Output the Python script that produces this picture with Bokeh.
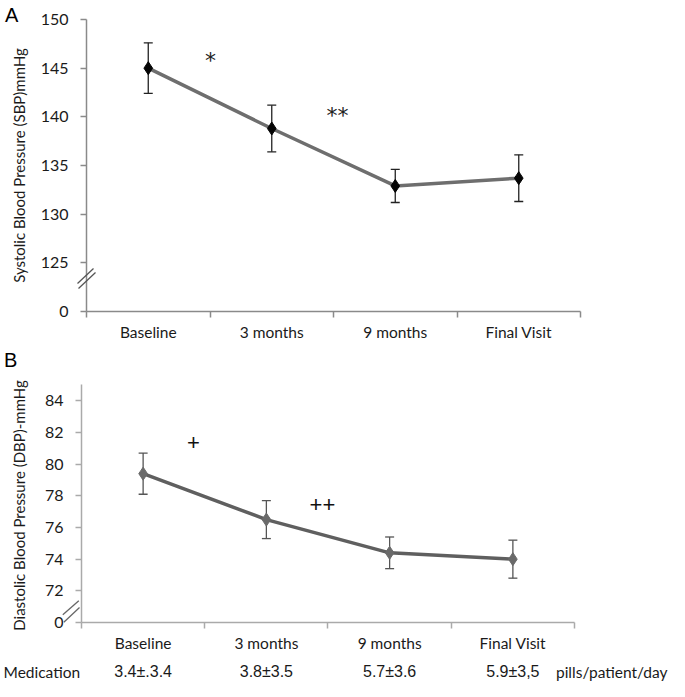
from bokeh.plotting import figure
from bokeh.models import (Range1d, FixedTicker, Label, Whisker, ColumnDataSource,
                          TeeHead, Arrow, LinearAxis)
from bokeh.layouts import column
from bokeh.embed import file_html
from bokeh.resources import INLINE
from bokeh.core.properties import value

# ---------------- data ----------------
categories = ["Baseline", "3 months", "9 months", "Final Visit"]
sbp_mean = [145.0, 138.8, 132.9, 133.7]
sbp_err = [2.6, 2.4, 1.7, 2.4]
dbp_mean = [79.4, 76.5, 74.4, 74.0]
dbp_err = [1.3, 1.2, 1.0, 1.2]
medication = ["3.4\u00b1.3.4", "3.8\u00b13.5", "5.7\u00b13.6", "5.9\u00b13,5"]
sbp_ticks = [120, 125, 130, 135, 140, 145, 150]
sbp_tick_labels = ["0", "125", "130", "135", "140", "145", "150"]
dbp_ticks = [70, 72, 74, 76, 78, 80, 82, 84]
dbp_tick_labels = ["0", "72", "74", "76", "78", "80", "82", "84"]
sbp_sig = ["*", "**"]
dbp_sig = ["+", "++"]

FONT = "Lato"
TXT = "#1a1a1a"
xs = [i + 0.5 for i in range(len(categories))]
bounds_x = (0, len(categories))


def make_panel(width, height, xr, yr, ybounds, ticks, tick_labels, mean, err,
               line_color, marker_color, err_color, axis_color, ylabel, title_standoff):
    p = figure(width=width, height=height, output_backend="svg",
               toolbar_location=None, x_range=Range1d(*xr), y_range=Range1d(*yr),
               x_axis_location=None, y_axis_location=None,
               min_border_left=0, min_border_right=0, min_border_top=0,
               min_border_bottom=0)
    p.outline_line_color = None
    p.background_fill_color = "white"
    p.border_fill_color = "white"
    for g in p.grid:
        g.visible = False

    xa = LinearAxis(fixed_location=ybounds[0], bounds=bounds_x,
                    ticker=FixedTicker(ticks=xs, minor_ticks=list(range(len(categories) + 1))),
                    major_label_overrides={x: c for x, c in zip(xs, categories)})
    xa.major_tick_out = 0
    xa.major_tick_in = 0
    xa.minor_tick_out = 6
    xa.minor_tick_in = 0
    xa.minor_tick_line_color = axis_color
    xa.minor_tick_line_width = 1.5
    xa.axis_line_color = axis_color
    xa.axis_line_width = 1.5
    xa.major_label_standoff = 6
    xa.major_label_text_font = FONT
    xa.major_label_text_font_size = "15.5px"
    xa.major_label_text_color = TXT
    p.add_layout(xa, "below")

    ya = LinearAxis(fixed_location=0, bounds=ybounds,
                    ticker=FixedTicker(ticks=ticks, minor_ticks=[]),
                    major_label_overrides={t: l for t, l in zip(ticks, tick_labels)})
    ya.major_tick_out = 6
    ya.major_tick_in = 0
    ya.minor_tick_out = 0
    ya.minor_tick_in = 0
    ya.major_tick_line_color = axis_color
    ya.major_tick_line_width = 1.5
    ya.axis_line_color = axis_color
    ya.axis_line_width = 1.5
    ya.major_label_standoff = 12
    ya.major_label_text_font = FONT
    ya.major_label_text_font_size = "16px"
    ya.major_label_text_color = TXT
    ya.axis_label = ylabel
    ya.axis_label_text_font = FONT
    ya.axis_label_text_font_style = "normal"
    ya.axis_label_text_font_size = "15px"
    ya.axis_label_text_color = TXT
    ya.axis_label_standoff = title_standoff
    p.add_layout(ya, "left")

    src = ColumnDataSource(dict(x=xs, y=mean,
                                upper=[m + e for m, e in zip(mean, err)],
                                lower=[m - e for m, e in zip(mean, err)]))
    p.line("x", "y", source=src, line_color=line_color, line_width=3.5)
    head = dict(size=9, line_color=err_color, line_width=1.3)
    p.add_layout(Whisker(base="x", upper="upper", lower="lower", source=src,
                         line_color=err_color, line_width=1.3,
                         upper_head=TeeHead(**head), lower_head=TeeHead(**head)))
    p.scatter("x", "y", source=src, marker="diamond", size=13,
              fill_color=marker_color, line_color=marker_color)
    return p


def seg(p, pts, color):
    for (x0, y0, x1, y1) in pts:
        p.add_layout(Arrow(start=None, end=None, x_start=x0, y_start=y0,
                           x_end=x1, y_end=y1, line_color=color, line_width=1.3))


def note(p, x, y, text, font, size, align="center", color=TXT):
    p.add_layout(Label(x=x, y=y, text=text, text_font=font, text_font_size=size,
                       text_align=align, text_baseline="middle", text_color=color))


# ---------------- panel A ----------------
# frame = whole canvas: x 0 at 86px (123.5 px/unit), y 150 at 19px (9.733 px/unit)
pA = make_panel(669, 342, (-0.6964, 4.7206), (116.814, 151.952), (120, 150),
                sbp_ticks, sbp_tick_labels, sbp_mean, sbp_err,
                "#6e6e6e", "#050505", "#222222", "#8a8a8a",
                "Systolic Blood Pressure (SBP)mmHg", 10)
note(pA, -0.66, 150.5, "A", "Liberation Sans", "20px", "left", "#000000")
for t, (x, y) in zip(sbp_sig, [(1.004, 145.81), (2.032, 140.16)]):
    note(pA, x, y, t, "DejaVu Sans", "22px", "center", "#222222")
seg(pA, [(-0.0729, 122.876, 0.0567, 124.417), (-0.0648, 122.362, 0.0729, 124.006)],
    "#555555")

# ---------------- panel B ----------------
# x 0 at 81px (123.25 px/unit), y 85 at 384.5px (15.833 px/unit)
pB = make_panel(669, 339, (-0.6572, 4.7708), (66.273, 87.684), (70, 85),
                dbp_ticks, dbp_tick_labels, dbp_mean, dbp_err,
                "#5f5f5f", "#6a6a6a", "#555555", "#aaaaaa",
                "Diastolic  Blood Pressure (DBP)-mmHg", 14)
note(pB, -0.628, 86.58, "B", "Liberation Sans", "20px", "left", "#000000")
for t, (x, y) in zip(dbp_sig, [(0.909, 81.35), (1.955, 77.45)]):
    note(pB, x, y, t, "Liberation Sans", "22px", "center", "#111111")
seg(pB, [(-0.1517, 70.486, -0.0219, 71.370), (-0.1436, 70.019, -0.0162, 70.947)],
    "#666666")

med_y = 66.9
note(pB, -0.633, med_y, "Medication", FONT, "15.5px", "left")
med_src = ColumnDataSource(dict(x=xs, y=[med_y] * len(xs), text=medication))
pB.text("x", "y", text="text", source=med_src, text_font=value("Liberation Sans"),
        text_font_size="16px", text_align="center", text_baseline="middle",
        text_color=TXT)
note(pB, 4.755, med_y, "pills/patient/day", FONT, "15.5px", "right")

layout = column(pA, pB, spacing=0)
open("out.html", "w").write(file_html(layout, INLINE))
